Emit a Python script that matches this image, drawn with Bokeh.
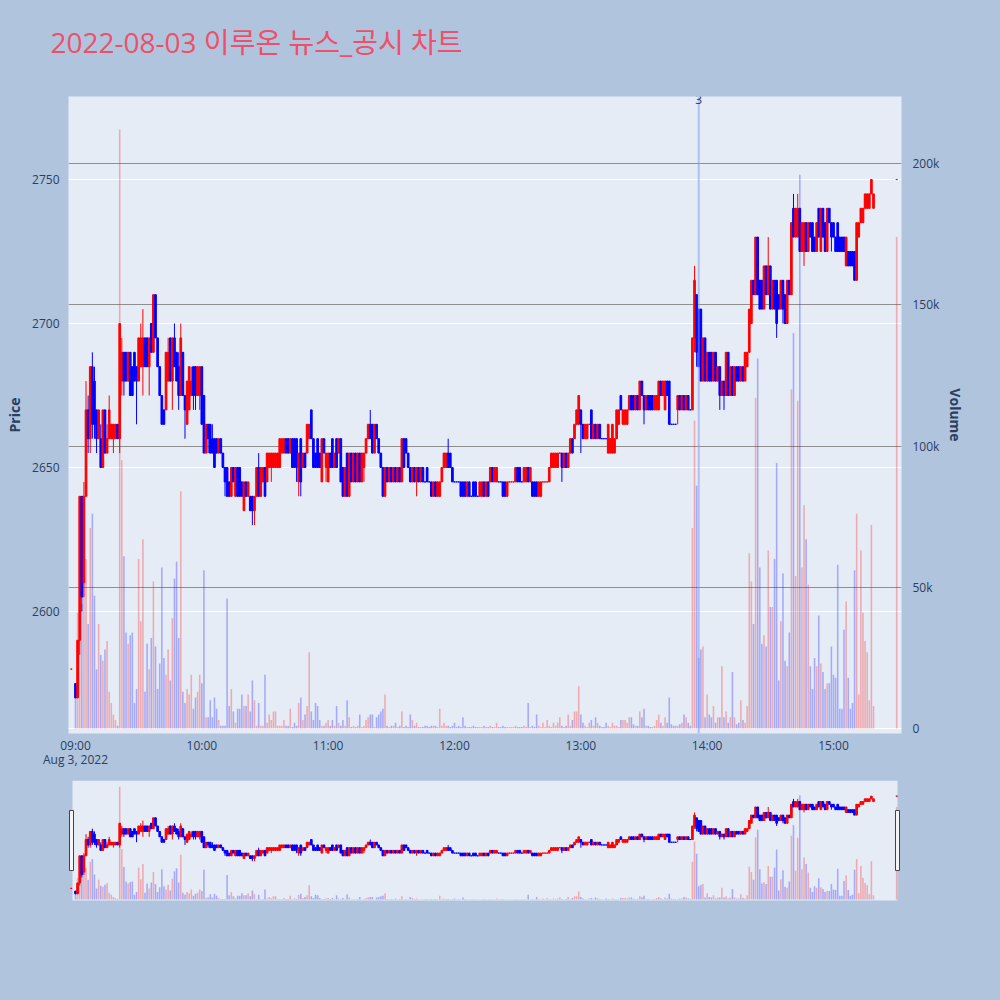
import numpy as np
import pandas as pd
from bokeh.plotting import figure
from bokeh.layouts import column
from bokeh.models import (Range1d, LinearAxis, FixedTicker, Grid, Label, Span,
                          ColumnDataSource, DatetimeTickFormatter, BoxAnnotation)
from bokeh.embed import file_html
from bokeh.resources import INLINE

# ------------------------------------------------------------------ data
TITLE = "2022-08-03 이루온 뉴스_공시 차트"
DATE_LABEL = "Aug 3, 2022"
SESSION_START = "2022-08-03 09:00"      # first regular 1-minute bar
PRE_TIME = "2022-08-03 08:58"
CLOSE_AUCTION_TIME = "2022-08-03 15:30"
NEWS_TIME = "2022-08-03 13:56"
NEWS_COUNT = "3"
HOUR_TICKS = ["09:00", "10:00", "11:00", "12:00", "13:00", "14:00", "15:00"]
PRICE_TICKS = [2600, 2650, 2700, 2750]
VOLUME_TICKS = [0, 50000, 100000, 150000, 200000]
VOLUME_TICK_LABELS = ["0", "50k", "100k", "150k", "200k"]

pre_bar = dict(o=2580, h=2580, l=2580, c=2580, v_k=0)
close_auction_bar = dict(o=2750, h=2750, l=2750, c=2750, v_k=174)

# one value per minute, 09:00 ... 15:19
opens = [
    2575, 2570, 2590, 2640, 2610, 2640, 2670, 2660, 2685, 2680,
    2670, 2660, 2660, 2650, 2670, 2655, 2660, 2660, 2660, 2660,
    2665, 2660, 2680, 2690, 2690, 2680, 2690, 2685, 2690, 2685,
    2680, 2685, 2685, 2695, 2695, 2685, 2700, 2690, 2710, 2695,
    2685, 2675, 2670, 2670, 2680, 2695, 2680, 2695, 2690, 2685,
    2675, 2690, 2675, 2665, 2670, 2675, 2685, 2685, 2675, 2675,
    2685, 2675, 2655, 2665, 2665, 2660, 2660, 2660, 2655, 2660,
    2655, 2650, 2650, 2645, 2640, 2650, 2640, 2650, 2650, 2645,
    2635, 2645, 2640, 2640, 2640, 2635, 2640, 2650, 2640, 2645,
    2650, 2645, 2650, 2650, 2650, 2650, 2650, 2650, 2655, 2655,
    2660, 2660, 2655, 2660, 2660, 2660, 2645, 2660, 2650, 2655,
    2655, 2660, 2670, 2660, 2655, 2660, 2655, 2645, 2660, 2650,
    2645, 2655, 2660, 2650, 2660, 2655, 2660, 2650, 2640, 2655,
    2640, 2655, 2645, 2655, 2645, 2655, 2645, 2650, 2655, 2660,
    2665, 2665, 2655, 2665, 2660, 2655, 2650, 2640, 2650, 2645,
    2650, 2645, 2650, 2645, 2650, 2645, 2660, 2660, 2655, 2650,
    2645, 2650, 2645, 2650, 2645, 2650, 2645, 2650, 2645, 2645,
    2640, 2645, 2640, 2640, 2645, 2650, 2650, 2655, 2655, 2650,
    2645, 2645, 2645, 2645, 2645, 2645, 2640, 2645, 2640, 2645,
    2645, 2640, 2640, 2640, 2645, 2640, 2645, 2645, 2650, 2645,
    2645, 2645, 2645, 2645, 2645, 2640, 2645, 2645, 2645, 2645,
    2650, 2650, 2645, 2645, 2645, 2650, 2645, 2645, 2645, 2645,
    2640, 2640, 2645, 2645, 2645, 2645, 2650, 2650, 2650, 2650,
    2655, 2655, 2650, 2655, 2650, 2655, 2660, 2660, 2665, 2665,
    2670, 2665, 2660, 2660, 2665, 2670, 2660, 2665, 2660, 2665,
    2660, 2660, 2660, 2655, 2655, 2655, 2655, 2660, 2665, 2675,
    2665, 2665, 2665, 2670, 2675, 2675, 2670, 2675, 2670, 2680,
    2675, 2670, 2675, 2675, 2675, 2670, 2670, 2670, 2680, 2675,
    2670, 2680, 2680, 2665, 2665, 2665, 2670, 2675, 2670, 2675,
    2670, 2675, 2670, 2670, 2695, 2710, 2705, 2705, 2680, 2695,
    2680, 2690, 2690, 2680, 2690, 2680, 2685, 2675, 2680, 2675,
    2690, 2675, 2685, 2675, 2685, 2685, 2680, 2685, 2680, 2685,
    2690, 2700, 2715, 2710, 2730, 2715, 2715, 2705, 2720, 2710,
    2720, 2705, 2715, 2715, 2710, 2705, 2715, 2710, 2700, 2715,
    2710, 2740, 2730, 2730, 2740, 2725, 2725, 2735, 2725, 2735,
    2735, 2730, 2725, 2740, 2725, 2740, 2735, 2725, 2740, 2735,
    2735, 2730, 2735, 2730, 2730, 2730, 2720, 2725, 2725, 2725,
    2725, 2715, 2730, 2735, 2735, 2740, 2740, 2740, 2745, 2740,
]
closes = [
    2570, 2590, 2640, 2605, 2640, 2670, 2660, 2685, 2665, 2665,
    2660, 2670, 2650, 2670, 2655, 2660, 2670, 2665, 2665, 2665,
    2660, 2700, 2690, 2680, 2680, 2690, 2675, 2675, 2680, 2680,
    2695, 2695, 2695, 2685, 2685, 2695, 2690, 2710, 2695, 2685,
    2675, 2665, 2665, 2690, 2690, 2680, 2695, 2685, 2680, 2675,
    2695, 2675, 2670, 2680, 2685, 2680, 2675, 2675, 2685, 2685,
    2665, 2655, 2665, 2660, 2655, 2655, 2650, 2655, 2660, 2655,
    2650, 2645, 2640, 2640, 2650, 2645, 2650, 2640, 2640, 2640,
    2645, 2640, 2645, 2635, 2635, 2640, 2650, 2640, 2650, 2650,
    2640, 2655, 2655, 2655, 2655, 2655, 2655, 2660, 2660, 2660,
    2655, 2655, 2660, 2650, 2650, 2650, 2655, 2645, 2655, 2650,
    2665, 2665, 2660, 2650, 2650, 2650, 2650, 2660, 2655, 2655,
    2655, 2650, 2650, 2655, 2650, 2660, 2645, 2640, 2650, 2640,
    2655, 2645, 2655, 2645, 2655, 2645, 2655, 2655, 2660, 2665,
    2660, 2655, 2665, 2660, 2655, 2650, 2640, 2650, 2645, 2650,
    2645, 2650, 2645, 2650, 2645, 2660, 2650, 2655, 2650, 2645,
    2650, 2645, 2650, 2645, 2650, 2645, 2645, 2645, 2645, 2640,
    2645, 2640, 2645, 2645, 2650, 2655, 2655, 2650, 2650, 2645,
    2645, 2645, 2645, 2640, 2640, 2640, 2645, 2640, 2640, 2640,
    2640, 2640, 2645, 2645, 2640, 2645, 2640, 2650, 2645, 2650,
    2650, 2645, 2645, 2640, 2640, 2645, 2645, 2645, 2645, 2650,
    2645, 2645, 2645, 2650, 2650, 2645, 2650, 2640, 2640, 2640,
    2645, 2645, 2645, 2645, 2645, 2650, 2655, 2655, 2655, 2655,
    2655, 2650, 2655, 2650, 2655, 2660, 2655, 2665, 2670, 2675,
    2665, 2660, 2665, 2665, 2665, 2660, 2665, 2660, 2665, 2660,
    2660, 2660, 2660, 2665, 2660, 2665, 2660, 2670, 2670, 2670,
    2670, 2670, 2670, 2675, 2670, 2670, 2675, 2670, 2680, 2675,
    2670, 2675, 2670, 2670, 2670, 2675, 2675, 2680, 2675, 2680,
    2680, 2675, 2665, 2665, 2665, 2665, 2675, 2670, 2675, 2670,
    2675, 2670, 2670, 2695, 2715, 2690, 2685, 2680, 2695, 2680,
    2690, 2680, 2680, 2690, 2680, 2685, 2675, 2680, 2675, 2690,
    2675, 2685, 2675, 2685, 2680, 2680, 2685, 2680, 2690, 2690,
    2705, 2715, 2710, 2730, 2710, 2705, 2705, 2720, 2710, 2720,
    2705, 2715, 2705, 2700, 2705, 2715, 2705, 2700, 2715, 2710,
    2735, 2730, 2740, 2740, 2725, 2735, 2735, 2725, 2735, 2730,
    2725, 2725, 2735, 2730, 2740, 2730, 2725, 2740, 2735, 2730,
    2730, 2725, 2725, 2725, 2725, 2725, 2730, 2720, 2720, 2720,
    2715, 2735, 2735, 2740, 2740, 2745, 2745, 2745, 2750, 2745,
]
highs = [
    2575, 2590, 2640, 2640, 2645, 2680, 2675, 2685, 2690, 2685,
    2670, 2670, 2665, 2670, 2670, 2665, 2675, 2665, 2665, 2665,
    2665, 2700, 2695, 2690, 2690, 2690, 2690, 2685, 2690, 2685,
    2695, 2700, 2705, 2695, 2695, 2695, 2700, 2710, 2710, 2695,
    2685, 2675, 2670, 2690, 2695, 2695, 2695, 2700, 2690, 2690,
    2700, 2690, 2675, 2680, 2685, 2685, 2685, 2685, 2685, 2685,
    2685, 2675, 2665, 2665, 2665, 2665, 2660, 2660, 2660, 2660,
    2655, 2650, 2650, 2645, 2650, 2650, 2650, 2650, 2650, 2645,
    2645, 2645, 2645, 2640, 2640, 2640, 2650, 2655, 2650, 2650,
    2650, 2655, 2655, 2655, 2655, 2655, 2655, 2660, 2660, 2660,
    2660, 2660, 2660, 2660, 2660, 2660, 2655, 2660, 2655, 2655,
    2665, 2665, 2670, 2660, 2655, 2660, 2655, 2660, 2660, 2655,
    2655, 2655, 2660, 2655, 2660, 2660, 2660, 2650, 2650, 2655,
    2655, 2655, 2655, 2655, 2655, 2655, 2655, 2655, 2660, 2665,
    2670, 2665, 2665, 2665, 2660, 2655, 2650, 2650, 2650, 2650,
    2650, 2650, 2650, 2650, 2650, 2660, 2660, 2660, 2655, 2650,
    2650, 2650, 2650, 2650, 2650, 2650, 2645, 2650, 2645, 2645,
    2645, 2645, 2645, 2645, 2650, 2655, 2655, 2660, 2655, 2650,
    2645, 2645, 2645, 2645, 2645, 2645, 2645, 2645, 2640, 2645,
    2645, 2640, 2645, 2645, 2645, 2645, 2645, 2650, 2650, 2650,
    2650, 2645, 2645, 2645, 2645, 2645, 2645, 2645, 2645, 2650,
    2650, 2650, 2645, 2650, 2650, 2650, 2650, 2645, 2645, 2645,
    2645, 2645, 2645, 2645, 2645, 2650, 2655, 2655, 2655, 2655,
    2655, 2655, 2655, 2655, 2655, 2660, 2660, 2665, 2670, 2675,
    2670, 2665, 2665, 2665, 2665, 2670, 2665, 2665, 2665, 2665,
    2660, 2660, 2660, 2665, 2660, 2665, 2660, 2670, 2670, 2675,
    2670, 2670, 2670, 2675, 2675, 2675, 2675, 2675, 2680, 2680,
    2675, 2675, 2675, 2675, 2675, 2675, 2675, 2680, 2680, 2680,
    2680, 2680, 2680, 2665, 2665, 2665, 2675, 2675, 2675, 2675,
    2675, 2675, 2670, 2695, 2720, 2710, 2705, 2705, 2695, 2695,
    2690, 2690, 2690, 2690, 2690, 2685, 2685, 2680, 2680, 2690,
    2690, 2685, 2685, 2685, 2685, 2685, 2685, 2685, 2690, 2690,
    2705, 2715, 2715, 2730, 2730, 2715, 2715, 2720, 2720, 2730,
    2720, 2715, 2715, 2715, 2710, 2715, 2715, 2710, 2715, 2715,
    2735, 2745, 2740, 2745, 2740, 2735, 2735, 2735, 2735, 2735,
    2735, 2730, 2735, 2740, 2740, 2740, 2735, 2740, 2740, 2735,
    2735, 2730, 2735, 2730, 2730, 2730, 2730, 2725, 2725, 2725,
    2725, 2735, 2735, 2740, 2740, 2745, 2745, 2745, 2750, 2745,
]
lows = [
    2570, 2570, 2585, 2600, 2605, 2640, 2655, 2655, 2660, 2660,
    2655, 2660, 2650, 2650, 2655, 2655, 2660, 2660, 2655, 2660,
    2660, 2655, 2675, 2675, 2680, 2680, 2675, 2675, 2680, 2665,
    2680, 2685, 2675, 2685, 2685, 2675, 2690, 2690, 2695, 2685,
    2675, 2665, 2665, 2670, 2680, 2680, 2670, 2685, 2680, 2670,
    2675, 2675, 2660, 2665, 2670, 2675, 2670, 2670, 2675, 2670,
    2665, 2655, 2655, 2655, 2655, 2655, 2650, 2655, 2655, 2655,
    2650, 2640, 2640, 2640, 2640, 2645, 2640, 2640, 2640, 2640,
    2635, 2640, 2640, 2635, 2630, 2630, 2640, 2640, 2640, 2645,
    2640, 2645, 2650, 2645, 2650, 2650, 2650, 2650, 2655, 2655,
    2655, 2655, 2655, 2650, 2650, 2645, 2640, 2640, 2650, 2650,
    2655, 2660, 2660, 2650, 2650, 2650, 2650, 2645, 2655, 2645,
    2645, 2650, 2650, 2650, 2650, 2655, 2645, 2640, 2640, 2640,
    2640, 2645, 2645, 2645, 2645, 2645, 2645, 2645, 2655, 2660,
    2660, 2655, 2655, 2660, 2655, 2650, 2640, 2640, 2645, 2645,
    2645, 2645, 2645, 2645, 2645, 2645, 2650, 2655, 2650, 2645,
    2645, 2645, 2640, 2645, 2645, 2645, 2645, 2645, 2645, 2640,
    2640, 2640, 2640, 2640, 2645, 2650, 2650, 2650, 2650, 2645,
    2645, 2645, 2645, 2640, 2640, 2640, 2640, 2640, 2640, 2640,
    2640, 2640, 2640, 2640, 2640, 2640, 2640, 2645, 2645, 2645,
    2645, 2645, 2645, 2640, 2640, 2640, 2645, 2645, 2645, 2645,
    2645, 2645, 2645, 2645, 2645, 2645, 2645, 2640, 2640, 2640,
    2640, 2640, 2645, 2645, 2645, 2645, 2650, 2650, 2650, 2650,
    2655, 2645, 2650, 2650, 2650, 2655, 2655, 2660, 2665, 2665,
    2655, 2660, 2660, 2660, 2665, 2660, 2660, 2660, 2660, 2660,
    2660, 2660, 2660, 2655, 2655, 2655, 2655, 2660, 2665, 2670,
    2665, 2665, 2665, 2670, 2670, 2670, 2670, 2670, 2670, 2675,
    2665, 2670, 2670, 2670, 2670, 2670, 2670, 2670, 2675, 2675,
    2670, 2675, 2665, 2665, 2665, 2665, 2665, 2670, 2670, 2670,
    2670, 2670, 2670, 2670, 2690, 2685, 2685, 2680, 2680, 2680,
    2680, 2680, 2680, 2680, 2680, 2680, 2670, 2675, 2670, 2675,
    2675, 2675, 2675, 2675, 2680, 2680, 2680, 2680, 2680, 2685,
    2690, 2700, 2710, 2710, 2710, 2705, 2705, 2705, 2710, 2710,
    2705, 2705, 2705, 2695, 2705, 2705, 2700, 2700, 2700, 2710,
    2710, 2730, 2730, 2730, 2725, 2725, 2720, 2725, 2725, 2730,
    2725, 2725, 2725, 2730, 2725, 2730, 2725, 2725, 2735, 2725,
    2730, 2725, 2725, 2725, 2725, 2725, 2720, 2720, 2720, 2720,
    2715, 2715, 2730, 2735, 2735, 2740, 2740, 2740, 2745, 2740,
]
volumes_k = [
    16, 41, 42, 44, 54, 60, 37, 71, 76, 47,
    21, 37, 26, 24, 28, 31, 13, 9, 5, 3,
    1, 212, 95, 61, 34, 30, 33, 34, 9, 14,
    60, 38, 67, 13, 30, 21, 32, 52, 29, 14,
    23, 57, 25, 19, 28, 17, 39, 53, 59, 32,
    84, 13, 9, 14, 12, 19, 7, 11, 13, 19,
    16, 56, 4, 4, 10, 4, 11, 7, 3, 1,
    1, 1, 46, 8, 14, 6, 2, 7, 7, 12,
    8, 8, 12, 6, 17, 10, 1, 9, 1, 1,
    19, 2, 5, 3, 6, 6, 1, 1, 1, 3,
    1, 1, 7, 0.5, 2, 1, 9, 11, 3, 5,
    8, 27, 6, 3, 9, 8, 3, 1, 1, 2,
    3, 1, 3, 1, 8, 2, 1, 3, 1, 10,
    4, 0.5, 1, 0.5, 1, 5, 0.5, 1, 3, 4,
    5, 5, 0.5, 4, 5, 6, 7, 12, 1, 0.5,
    1, 1, 2, 0.5, 1, 6, 0.5, 1, 0.5, 5,
    3, 1, 2, 0.5, 0.5, 0.5, 1, 1, 0.5, 1,
    1, 1, 0.5, 7, 1, 2, 1, 1, 0.5, 1,
    2, 0.5, 1, 0.5, 4, 1, 0.5, 0.5, 0.5, 1,
    0.5, 0.5, 0.5, 0.5, 1, 0.5, 0.5, 1, 0.5, 0.5,
    2, 0.5, 0.5, 1, 0.5, 0.5, 0.5, 0.5, 0.5, 1,
    0.5, 0.5, 0.5, 1, 0.5, 9, 0.5, 1, 0.5, 5,
    1, 0.5, 2, 0.5, 3, 1, 0.5, 2, 1, 2,
    4, 1, 0.5, 1, 5, 1, 3, 6, 6, 15,
    5, 2, 1, 0.5, 2, 3, 1, 4, 2, 1,
    0.5, 0.5, 2, 1, 0.5, 2, 1, 1, 0.5, 3,
    3, 3, 2, 4, 4, 1.5, 1, 1, 6, 4,
    7, 1, 1, 0.5, 0.5, 1, 3, 5, 2, 1,
    4, 2, 11, 1.5, 1, 1, 1, 1.5, 2, 5,
    4, 2, 1, 71, 109, 86, 25, 28, 29, 4,
    12, 5, 4, 8, 2, 4, 4, 22, 4, 6,
    2, 4, 20, 4, 1.5, 2, 10, 3, 2, 8,
    62, 52, 37, 117, 131, 57, 30, 33, 29, 63,
    43, 43, 60, 94, 17, 38, 55, 24, 22, 34,
    120, 140, 54, 116, 196, 57, 79, 67, 51, 22,
    14, 25, 22, 40, 23, 20, 14, 16, 16, 29,
    19, 18, 58, 7, 7, 35, 45, 18, 7, 9,
    56, 76, 12, 63, 41, 31, 27, 10, 72, 8,
]

# ------------------------------------------------------------------ table
n = min(len(opens), len(closes), len(highs), len(lows), len(volumes_k))
session_times = list(pd.date_range(SESSION_START, periods=n, freq="min"))
t = [pd.Timestamp(PRE_TIME)] + session_times + [pd.Timestamp(CLOSE_AUCTION_TIME)]
o = [pre_bar["o"]] + opens[:n] + [close_auction_bar["o"]]
h = [pre_bar["h"]] + highs[:n] + [close_auction_bar["h"]]
l = [pre_bar["l"]] + lows[:n] + [close_auction_bar["l"]]
c = [pre_bar["c"]] + closes[:n] + [close_auction_bar["c"]]
v = [x * 1000 for x in ([pre_bar["v_k"]] + volumes_k[:n] + [close_auction_bar["v_k"]])]

UP, DOWN = "#FF0000", "#0000FF"
colors = []
prev_c, prev_dir = None, 1
for oi, ci in zip(o, c):
    if ci > oi:
        d = 1
    elif ci < oi:
        d = -1
    elif prev_c is None or ci > prev_c:
        d = 1
    elif ci < prev_c:
        d = -1
    else:
        d = prev_dir
    colors.append(UP if d > 0 else DOWN)
    prev_c, prev_dir = ci, d

src = ColumnDataSource(dict(t=t, o=o, h=h, l=l, c=c, v=v,
                            top=[max(a, b) for a, b in zip(o, c)],
                            bot=[min(a, b) for a, b in zip(o, c)],
                            color=colors))

# ------------------------------------------------------------------ geometry
T0 = pd.Timestamp(SESSION_START)
X_AT_T0 = 75.0
PX_PER_MIN = (833.0 - 75.0) / 360.0
Y_AT_2750, PX_PER_WON = 179.0, 2.88
Y_VOL0, PX_PER_VOL = 728.0, (728.0 - 163.0) / 200000.0
FRAME_L, FRAME_R, FRAME_T, FRAME_B = 68, 901, 96, 733
TITLE_H = 84          # height of the strip that carries the title
MAIN_BOTTOM = 780     # page y where the range slider strip starts


def ms(ts):
    return pd.Timestamp(ts).value / 1e6


def px2t(px):
    return ms(T0 + pd.Timedelta(minutes=(px - X_AT_T0) / PX_PER_MIN))


def py2price(py):
    return 2750 + (Y_AT_2750 - py) / PX_PER_WON


def py2vol(py):
    return (Y_VOL0 - py) / PX_PER_VOL


def no_align(fig):
    try:
        fig.frame_align = False
    except Exception:
        pass


PAGE_BG = "#B0C4DE"
PLOT_BG = "#E5ECF6"
FONT_COLOR = "#2a3f5f"
FONT = "'Open Sans', 'Noto Sans CJK KR'"
BODY_W = 0.8 * 60000
VOL_W = 0.75 * 60000

price_lo, price_hi = py2price(FRAME_B), py2price(FRAME_T)
vol_lo, vol_hi = py2vol(FRAME_B), py2vol(FRAME_T)


def draw_bars(fig):
    fig.vbar(x="t", top="v", bottom=0, width=VOL_W, y_range_name="vol",
             fill_color="color", fill_alpha=0.28, line_color=None, source=src)
    fig.segment(x0="t", y0="l", x1="t", y1="h", line_color="color",
                line_width=1, source=src)
    fig.vbar(x="t", top="top", bottom="bot", width=BODY_W, fill_color="color",
             line_color="color", line_width=1, source=src)


# ------------------------------------------------------------------ title strip
title_fig = figure(width=1000, height=TITLE_H, x_range=Range1d(0, 1000),
                   y_range=Range1d(TITLE_H, 0), x_axis_location=None,
                   y_axis_location=None, output_backend="svg",
                   toolbar_location=None, title=None, min_border=0,
                   background_fill_color=PAGE_BG, border_fill_color=PAGE_BG,
                   outline_line_color=None)
no_align(title_fig)
title_fig.grid.visible = False
title_fig.add_layout(Label(x=50, y=41, text=TITLE, text_font=FONT,
                           text_font_size="28px", text_color="#EC506A",
                           text_align="left", text_baseline="middle"))

# ------------------------------------------------------------------ main chart
main_h = MAIN_BOTTOM - TITLE_H
p = figure(width=1000, height=main_h, x_axis_type="datetime",
           x_range=Range1d(px2t(FRAME_L), px2t(FRAME_R)),
           y_range=Range1d(price_lo, price_hi),
           output_backend="svg", toolbar_location=None, title=None,
           min_border_left=FRAME_L, min_border_right=1000 - FRAME_R,
           min_border_top=FRAME_T - TITLE_H, min_border_bottom=MAIN_BOTTOM - FRAME_B,
           background_fill_color=PLOT_BG, border_fill_color=PAGE_BG,
           outline_line_color=None)
no_align(p)
p.extra_y_ranges = {"vol": Range1d(vol_lo, vol_hi)}

hour_ticks = [ms(f"2022-08-03 {hh}") for hh in HOUR_TICKS]
p.xaxis.ticker = FixedTicker(ticks=hour_ticks)
p.xaxis.formatter = DatetimeTickFormatter(hours="%H:%M", hourmin="%H:%M",
                                          minutes="%H:%M", days="%H:%M")
# first tick carries the date as a second line, as in the reference
p.xaxis.major_label_overrides = {hour_ticks[0]: HOUR_TICKS[0] + "\n" + DATE_LABEL}
price_ticker = FixedTicker(ticks=PRICE_TICKS)
p.yaxis.ticker = price_ticker
p.ygrid.ticker = price_ticker
p.ygrid.grid_line_color = "white"
p.ygrid.grid_line_width = 1
p.xgrid.visible = False

vol_axis = LinearAxis(y_range_name="vol", ticker=FixedTicker(ticks=VOLUME_TICKS),
                      major_label_overrides=dict(zip(VOLUME_TICKS, VOLUME_TICK_LABELS)))
p.add_layout(vol_axis, "right")

for ax in [p.xaxis[0], p.yaxis[0], vol_axis]:
    ax.axis_line_color = None
    ax.major_tick_line_color = None
    ax.minor_tick_line_color = None
    ax.major_label_text_color = FONT_COLOR
    ax.major_label_text_font = "Open Sans"
    ax.major_label_text_font_size = "12px"
    ax.axis_label_text_color = FONT_COLOR
    ax.axis_label_text_font = "Open Sans"
    ax.axis_label_text_font_style = "bold"
    ax.axis_label_text_font_size = "14px"
p.xaxis.major_label_standoff = -3
p.xaxis.major_label_text_line_height = 0.85
p.yaxis[0].major_label_standoff = 3
p.yaxis[0].axis_label = "Price"
p.yaxis[0].axis_label_standoff = 5
vol_axis.major_label_standoff = 5
vol_axis.axis_label = "Volume"
vol_axis.axis_label_standoff = 4

p.add_layout(Grid(dimension=1, ticker=FixedTicker(ticks=VOLUME_TICKS[1:]),
                  y_range_name="vol", grid_line_color="#8f8f8f", grid_line_width=1))
p.add_layout(Grid(dimension=1, ticker=FixedTicker(ticks=VOLUME_TICKS[:1]),
                  y_range_name="vol", grid_line_color="white", grid_line_width=1))

draw_bars(p)

p.add_layout(Span(location=ms(NEWS_TIME), dimension="height",
                  line_color="#7f9af2", line_alpha=0.55, line_width=2))
p.add_layout(Label(x=ms(NEWS_TIME), y=py2price(99), text=NEWS_COUNT,
                   text_align="center", text_baseline="middle",
                   text_font="Open Sans", text_font_size="12px",
                   text_color=FONT_COLOR))

# ------------------------------------------------------------------ range slider
MINI_H = 1000 - MAIN_BOTTOM
IN_L, IN_R, IN_T, IN_B = 72, 897, 780, 900
MF_L, MF_R, MF_T, MF_B = 64, 905, MAIN_BOTTOM, 904
won_per_px = (price_hi - price_lo) / (IN_B - IN_T)
vol_per_px = (vol_hi - vol_lo) / (IN_B - IN_T)


def mini_price(py):
    return price_lo + (IN_B - py) * won_per_px


mini = figure(width=1000, height=MINI_H, x_axis_type="datetime",
              x_range=Range1d(px2t(MF_L), px2t(MF_R)),
              y_range=Range1d(mini_price(MF_B), mini_price(MF_T)),
              x_axis_location=None, y_axis_location=None,
              output_backend="svg", toolbar_location=None, title=None,
              min_border_left=MF_L, min_border_right=1000 - MF_R,
              min_border_top=MF_T - MAIN_BOTTOM, min_border_bottom=1000 - MF_B,
              background_fill_color=PAGE_BG, border_fill_color=PAGE_BG,
              outline_line_color=None)
no_align(mini)
mini.extra_y_ranges = {"vol": Range1d(vol_lo - (MF_B - IN_B) * vol_per_px,
                                      vol_hi + (IN_T - MF_T) * vol_per_px)}
mini.grid.visible = False
mini.add_layout(BoxAnnotation(left=px2t(IN_L), right=px2t(IN_R),
                              bottom=price_lo, top=price_hi,
                              fill_color=PLOT_BG, fill_alpha=1.0,
                              line_color=None, level="underlay"))
draw_bars(mini)
for hx0, hx1 in [(69, 73), (895, 899)]:
    mini.add_layout(BoxAnnotation(left=px2t(hx0), right=px2t(hx1),
                                  bottom=mini_price(870), top=mini_price(810),
                                  fill_color="#f4f4f4", fill_alpha=1.0,
                                  line_color="#444444", line_width=1,
                                  line_alpha=1.0))

layout = column(title_fig, p, mini, spacing=0)

html = file_html(layout, INLINE, title="chart")
html = html.replace("<head>", "<head><style>html,body{margin:0;padding:0;"
                    "background:#B0C4DE;overflow:hidden;}</style>", 1)
open("out.html", "w").write(html)
